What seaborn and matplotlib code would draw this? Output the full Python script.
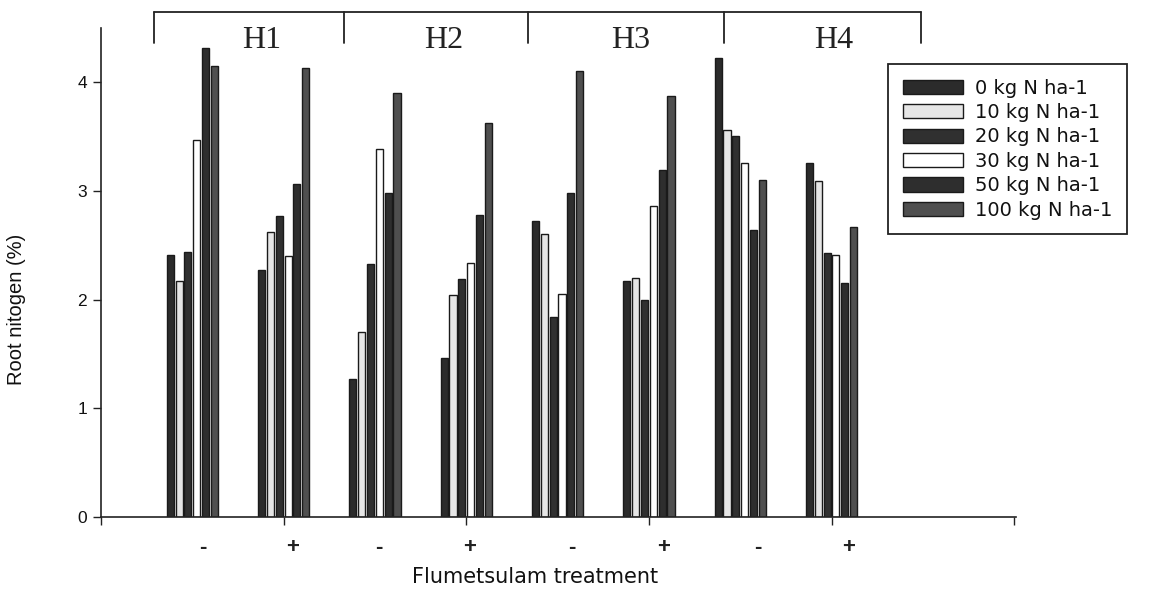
import matplotlib
matplotlib.use("Agg")
import matplotlib.pyplot as plt
import matplotlib.transforms as mtrans
import seaborn as sns
import pandas as pd

# ---- data ----
herbicides = ["H1", "H2", "H3", "H4"]
treatments = ["-", "+"]
rates = ["0 kg N ha-1", "10 kg N ha-1", "20 kg N ha-1",
         "30 kg N ha-1", "50 kg N ha-1", "100 kg N ha-1"]
# values per rate, in group order H1-, H1+, H2-, H2+, H3-, H3+, H4-, H4+
n0 = [2.41, 2.27, 1.27, 1.46, 2.72, 2.17, 4.22, 3.26]
n10 = [2.17, 2.62, 1.70, 2.04, 2.60, 2.20, 3.56, 3.09]
n20 = [2.44, 2.77, 2.33, 2.19, 1.84, 2.00, 3.51, 2.43]
n30 = [3.47, 2.40, 3.39, 2.34, 2.05, 2.86, 3.26, 2.41]
n50 = [4.32, 3.06, 2.98, 2.78, 2.98, 3.19, 2.64, 2.15]
n100 = [4.15, 4.13, 3.90, 3.63, 4.10, 3.87, 3.10, 2.67]
series = [n0, n10, n20, n30, n50, n100]
colors = ["#2b2b2b", "#e6e6e6", "#303030", "#ffffff", "#2e2e2e", "#4f4f4f"]

groups = [f"{h} {t}" for h in herbicides for t in treatments]
rows = []
for rate, vals in zip(rates, series):
    for g, v in zip(groups, vals):
        rows.append({"group": g, "rate": rate, "value": v})
df = pd.DataFrame(rows)

sns.set_theme(style="ticks")
plt.rcParams["font.family"] = ["Liberation Sans", "DejaVu Sans"]

fig, ax = plt.subplots(figsize=(11.66, 6.04), dpi=100)
fig.subplots_adjust(left=101/1166, right=1016/1166, bottom=1-517/604, top=1-28/604)

sns.barplot(data=df, x="group", y="value", hue="rate", order=groups,
            hue_order=rates, palette=colors, saturation=1, width=0.58,
            gap=0.2, edgecolor="#1a1a1a", linewidth=1.0, errorbar=None, ax=ax)

ax.set_xlim(-1, 9.02)
ax.set_ylim(0, 4.5)
ax.set_yticks([0, 1, 2, 3, 4])
ax.set_yticklabels(["0", "1", "2", "3", "4"], fontsize=12.5, color="#111111")
ax.set_xticks([-1, 1, 3, 5, 7, 9])
ax.set_xticklabels([""] * 6)
ax.tick_params(axis="both", direction="out", length=6, width=1.0,
               color="#222222", pad=4)
for s in ["left", "bottom"]:
    ax.spines[s].set_color("#222222")
    ax.spines[s].set_linewidth(1.2)
sns.despine(ax=ax)

ax.set_ylabel("Root nitogen (%)", fontsize=14.5, color="#111111")
ax.yaxis.set_label_coords(-0.082, 0.425)
ax.set_xlabel("Flumetsulam treatment", fontsize=15, family="DejaVu Sans",
              color="#111111")
ax.xaxis.set_label_coords(0.474, -0.103)

# treatment labels under each group
lab_pos = [0.11, 1.10, 2.04, 3.04, 4.16, 5.16, 6.19, 7.19]
trans_x = mtrans.blended_transform_factory(ax.transData, ax.transAxes)
for i, p in enumerate(lab_pos):
    ax.text(p, -0.062, treatments[i % 2], transform=trans_x, ha="center",
            va="center", fontsize=16, fontweight="bold", color="#222222")

# herbicide bracket at the top
trans_f = mtrans.blended_transform_factory(ax.transData, fig.transFigure)
edges = [-0.416, 1.665, 3.68, 5.82, 7.98]
y_line = 1 - 12/604
y_tick = 1 - 43/604
ax.plot([edges[0], edges[-1]], [y_line, y_line], transform=trans_f,
        color="#222222", lw=1.3, clip_on=False)
for e in edges:
    ax.plot([e, e], [y_line, y_tick], transform=trans_f, color="#222222",
            lw=1.3, clip_on=False)
h_pos = [0.756, 2.75, 4.80, 7.02]
for h, p in zip(herbicides, h_pos):
    ax.text(p, 1 - 40/604, h, transform=trans_f, ha="center", va="center",
            fontsize=23, family="Liberation Serif", color="#222222")

handles, labels = ax.get_legend_handles_labels()
leg = ax.legend(handles, labels, loc="upper left",
                bbox_to_anchor=(888/1166, 1 - 64/604),
                bbox_transform=fig.transFigure, frameon=True, fancybox=False,
                edgecolor="#222222", framealpha=1,
                prop={"family": "DejaVu Sans", "size": 14},
                handlelength=3.1, handleheight=0.75, labelspacing=0.28,
                handletextpad=0.62, borderpad=0.75, borderaxespad=0)
leg.get_frame().set_linewidth(1.3)
for t in leg.get_texts():
    t.set_color("#111111")

fig.savefig("out.png", dpi=100, facecolor="white")
